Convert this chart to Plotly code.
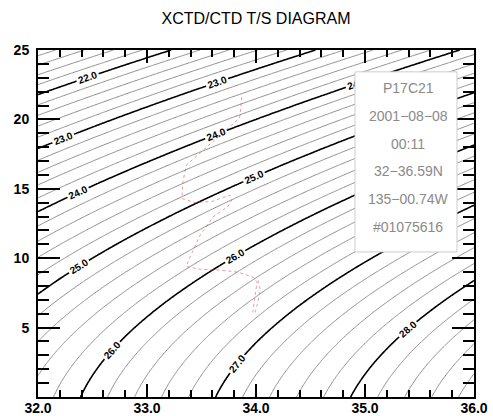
import numpy as np
import plotly.graph_objects as go

# ---- profile data (salinity, temperature) ----
xctd_sal = [33.87, 33.85, 33.36, 33.33, 33.32, 33.44, 33.60, 33.76, 33.78, 33.74,
            33.61, 33.49, 33.39, 33.36, 33.49, 33.67, 33.83, 33.97, 34.01, 33.99, 33.97]
xctd_temp = [21.6, 20.1, 16.7, 15.5, 14.3, 14.0, 14.1, 14.55, 14.2, 13.7,
             13.0, 11.7, 10.0, 9.4, 9.2, 9.15, 9.0, 8.65, 8.3, 7.1, 6.1]

ctd_sal = [34.02, 34.04, 34.01, 33.99]
ctd_temp = [8.4, 7.7, 6.6, 6.05]

# ---- station info ----
station_lines = ["P17C21", "2001\u221208\u221208", "00:11",
                 "32\u221236.59N", "135\u221200.74W", "#01075616"]

# ---- axis ticks ----
sal_ticks = [32.0, 33.0, 34.0, 35.0, 36.0]
temp_ticks = [5, 10, 15, 20, 25]


def sigma_t(S, T):
    """UNESCO EOS-80 density anomaly at surface pressure."""
    rho_w = (999.842594 + 6.793952e-2 * T - 9.095290e-3 * T**2
             + 1.001685e-4 * T**3 - 1.120083e-6 * T**4 + 6.536332e-9 * T**5)
    A = (8.24493e-1 - 4.0899e-3 * T + 7.6438e-5 * T**2
         - 8.2467e-7 * T**3 + 5.3875e-9 * T**4)
    B = -5.72466e-3 + 1.0227e-4 * T - 1.6546e-6 * T**2
    C = 4.8314e-4
    return rho_w + A * S + B * S**1.5 + C * S**2 - 1000.0


s_grid = np.linspace(32.0, 36.0, 241)
t_grid = np.linspace(0.0, 25.0, 251)
SS, TT = np.meshgrid(s_grid, t_grid)
ZZ = sigma_t(SS, TT)

fig = go.Figure()

# thin isopycnals every 0.2, skipping whole numbers
for k in range(1, 5):
    fig.add_trace(go.Contour(
        x=s_grid, y=t_grid, z=ZZ,
        contours=dict(start=20.0 + 0.2 * k, end=30.0, size=1.0, coloring="lines"),
        colorscale=[[0, "#8c8c8c"], [1, "#8c8c8c"]],
        line=dict(width=1),
        showscale=False, hoverinfo="skip",
    ))

# labelled isopycnals every 1.0; the extended level range spaces the
# labels a few times along each line
fig.add_trace(go.Contour(
    x=s_grid, y=t_grid, z=ZZ,
    contours=dict(start=20.0, end=85.0, size=1.0, coloring="lines",
                  showlabels=True,
                  labelfont=dict(family="Liberation Sans", size=10, color="black",
                                 weight="bold")),
    colorscale=[[0, "black"], [1, "black"]],
    line=dict(width=1.6),
    showscale=False, hoverinfo="skip",
))
fig.data[-1].contours.labelformat = ".1f"

fig.add_trace(go.Scatter(
    x=ctd_sal, y=ctd_temp, mode="lines",
    line=dict(color="rgba(150,150,150,0.7)", width=1, dash="dot"),
    hoverinfo="skip", showlegend=False,
))
fig.add_trace(go.Scatter(
    x=xctd_sal, y=xctd_temp, mode="lines",
    line=dict(color="rgba(235,80,80,0.6)", width=1, dash="dot"),
    hoverinfo="skip", showlegend=False,
))

# station info box
fig.add_shape(type="rect", xref="paper", yref="paper",
              x0=0.727, x1=0.961, y0=0.418, y1=0.937,
              fillcolor="white", line=dict(color="#cccccc", width=1),
              layer="above")
for i, txt in enumerate(station_lines):
    fig.add_annotation(xref="paper", yref="paper", x=0.849, y=0.890 - 0.080 * i,
                       text=txt, showarrow=False,
                       font=dict(family="Liberation Sans", size=14, color="#8a8a8a"),
                       xanchor="center", yanchor="middle")

tick_font = dict(family="Liberation Sans", size=14, color="black", weight="bold")

fig.update_layout(
    width=493, height=416,
    margin=dict(l=38, r=19, t=50, b=19),
    paper_bgcolor="white", plot_bgcolor="white",
    showlegend=False,
    title=dict(text="XCTD/CTD T/S DIAGRAM", x=0.5, xref="paper", xanchor="center",
               y=1 - 18 / 416, yref="container", yanchor="middle",
               font=dict(family="Liberation Sans", size=16, color="black")),
    xaxis=dict(range=[32.0, 36.0], tickvals=sal_ticks, tickformat=".1f",
               automargin=False,
               showgrid=False, zeroline=False,
               showline=True, linecolor="black", linewidth=2, mirror="ticks",
               ticks="inside", ticklen=13, tickwidth=2, tickcolor="black",
               tickfont=tick_font, ticklabelstandoff=-3,
               minor=dict(dtick=0.2, ticks="inside", ticklen=7, tickwidth=2,
                          tickcolor="black")),
    yaxis=dict(range=[0, 25], tickvals=temp_ticks,
               automargin=False,
               showgrid=False, zeroline=False,
               showline=True, linecolor="black", linewidth=2, mirror="ticks",
               ticks="inside", ticklen=22, tickwidth=2, tickcolor="black",
               tickfont=tick_font, ticklabelstandoff=4,
               minor=dict(dtick=1, ticks="inside", ticklen=11, tickwidth=2,
                          tickcolor="black")),
)

fig.write_html("out.html")
